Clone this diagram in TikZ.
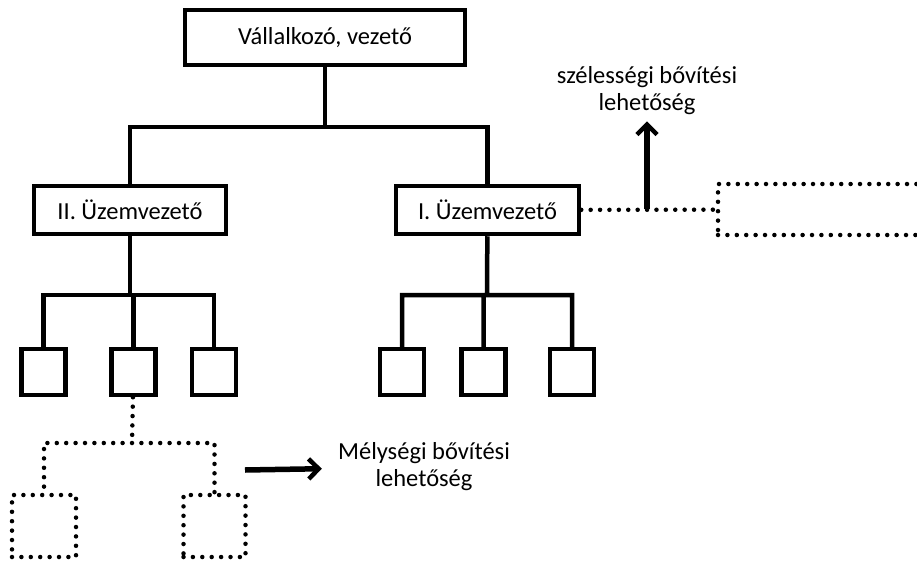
\documentclass[tikz,border=0pt]{standalone}
\usepackage{fontspec}
\setmainfont{Carlito}
\usetikzlibrary{arrows.meta}

\begin{document}
\begin{tikzpicture}[x=1pt,y=-1pt,line width=4.5pt,
  box/.style={rectangle, draw, line width=4.5pt, font=\fontsize{24.5}{27}\selectfont},
  unit/.style={rectangle, draw, line width=4.5pt, minimum width=44, minimum height=46},
  dots/.style={line width=4.5pt, line cap=round, dash pattern=on 0pt off 9.4pt},
  ghost/.style={rectangle, draw, dots},
  note/.style={align=center, inner sep=2pt, font=\fontsize{24.5}{27}\selectfont},
  growth/.style={line width=5.5pt, -{Straight Barb[length=10pt,width=20pt,line width=4.5pt]}}]
\useasboundingbox (0,0) rectangle (917,564);
\node[box, minimum width=280, minimum height=55] (boss) at (325,37.5) {Vállalkozó, vezető};
\node[box, minimum width=192, minimum height=48] (ii) at (130,210) {II. Üzemvezető};
\node[box, minimum width=183, minimum height=48] (i) at (487.5,210) {I. Üzemvezető};
\node[ghost, minimum width=210, minimum height=51] (wide) at (823,209.5) {};
\foreach \n/\x in {a/43.5, b/133.5, c/214}
  \node[unit] (ii\n) at (\x,372) {};
\foreach \n/\x in {a/402, b/483.5, c/572}
  \node[unit] (i\n) at (\x,372) {};
\node[ghost, minimum width=64, minimum height=62] (deepa) at (44,526) {};
\node[ghost, minimum width=62, minimum height=62] (deepb) at (214.5,526) {};
\node[note] (wtext) at (647,91) {szélességi bővítési\\lehetőség};
\node[note] (dtext) at (424,467) {Mélységi bővítési\\lehetőség};
\coordinate (top) at (325,127);
\coordinate (iifork) at (130,295);
\coordinate (ifork) at (487,295);
\coordinate (deep) at (132,443);
\coordinate (wbranch) at (647,209);
\coordinate (dstart) at (245,470);
\draw (boss) -- (top) (top) -| (ii) (top) -| (i);
\draw (ii) -- (iifork) foreach \n in {a,b,c} {(iifork) -| (ii\n)};
\draw (i) -- (ifork) foreach \n in {a,b,c} {(ifork) -| (i\n)};
\draw[dots] (iib) -- (deep) (deep) -| (deepa) (deep) -| (deepb);
\draw[dots] (i) -- (wide);
\draw[growth, shorten >=2pt] (wbranch) -- (wtext);
\draw[growth, shorten >=12pt] (dstart) -- (dtext);
\end{tikzpicture}
\end{document}
